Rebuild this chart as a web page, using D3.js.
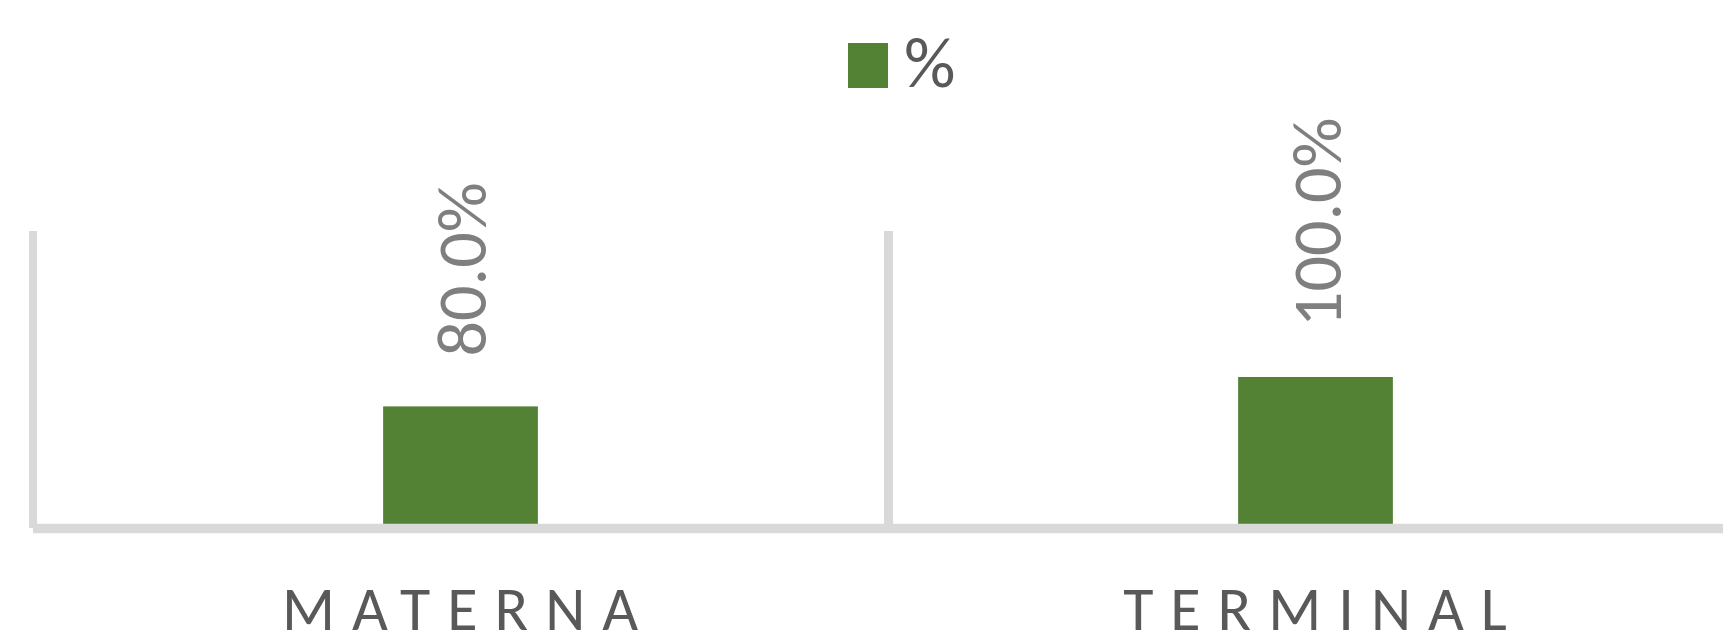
<!DOCTYPE html>
<html lang="es">
<head>
<meta charset="utf-8">
<title>% por categoría</title>
<script src="https://d3js.org/d3.v7.min.js"></script>
<style>
  body { margin: 0; background: #fff; }
  svg text { font-family: "Calibri Light", Carlito, Lato, "Open Sans", sans-serif; font-weight: 300; }
</style>
</head>
<body>
<script>
// data
var categories = ["MATERNA", "TERMINAL"];
var values = [0.8, 1.0];
var seriesName = "%";

var width = 1723, height = 637;
var green = "#548235", axisGrey = "#d9d9d9";

var svg = d3.select("body").append("svg")
    .attr("width", width)
    .attr("height", height);

// category axis starts at the left line; second band runs off the right edge
var x = d3.scaleBand()
    .domain(categories)
    .range([33, 1743])
    .paddingInner(0.819)
    .paddingOuter(0.4095);

var step = x.step();

var y = d3.scaleLinear()
    .domain([0, 2])
    .range([524, 230]);

var fmt = d3.format(".1%");

// vertical separators (left edge + between categories)
svg.selectAll(".sep")
    .data(categories)
    .enter()
    .append("line")
    .attr("class", "sep")
    .attr("x1", function(d, i) { return x(d) - step * 0.4095 + (i ? 0.5 : 0); })
    .attr("x2", function(d, i) { return x(d) - step * 0.4095 + (i ? 0.5 : 0); })
    .attr("y1", y(2) + 1)
    .attr("y2", function(d, i) { return i ? y(0) : y(0) + 4; })
    .attr("stroke", axisGrey)
    .attr("stroke-width", function(d, i) { return i ? 9 : 8; });

// bars
svg.selectAll(".bar")
    .data(values)
    .enter()
    .append("rect")
    .attr("class", "bar")
    .attr("x", function(d, i) { return x(categories[i]); })
    .attr("width", x.bandwidth())
    .attr("y", function(d) { return y(d); })
    .attr("height", function(d) { return y(0) - y(d); })
    .attr("fill", green);

// baseline
svg.append("line")
    .attr("x1", 33)
    .attr("x2", width)
    .attr("y1", y(0) + 4.5)
    .attr("y2", y(0) + 4.5)
    .attr("stroke", axisGrey)
    .attr("stroke-width", 9.5);

// rotated value labels
svg.selectAll(".lbl")
    .data(values)
    .enter()
    .append("text")
    .attr("class", "lbl")
    .attr("transform", function(d, i) {
        return "translate(" + (x(categories[i]) + x.bandwidth() / 2) + "," + (y(d) - 50) + ") rotate(-90)";
    })
    .attr("dy", "0.36em")
    .attr("font-size", 70)
    .attr("fill", "#7f7f7f")
    .text(function(d) { return fmt(d); });

// category labels
svg.selectAll(".cat")
    .data(categories)
    .enter()
    .append("text")
    .attr("class", "cat")
    .attr("x", function(d) { return x(d) + x.bandwidth() / 2 + 8; })
    .attr("y", 630)
    .attr("text-anchor", "middle")
    .attr("font-size", 62)
    .attr("letter-spacing", 17)
    .attr("fill", "#595959")
    .text(function(d) { return d; });

// legend
var legend = svg.append("g").attr("transform", "translate(848,43)");
legend.append("rect")
    .attr("width", 40)
    .attr("height", 45)
    .attr("fill", green);
legend.append("text")
    .attr("x", 56)
    .attr("y", 44)
    .attr("font-size", 72)
    .attr("fill", "#595959")
    .text(seriesName);
</script>
</body>
</html>
